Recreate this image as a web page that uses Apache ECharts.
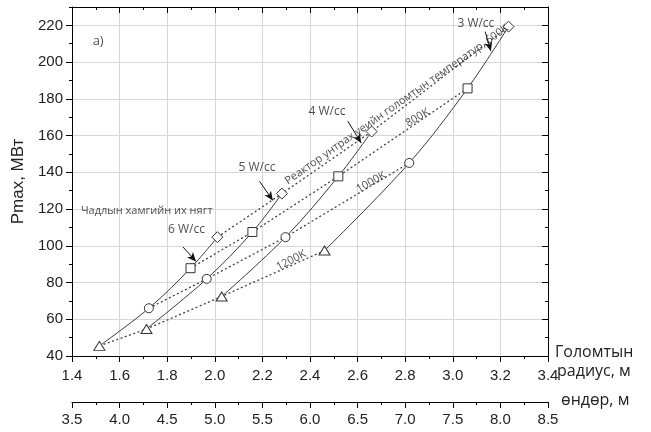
<!DOCTYPE html>
<html>
<head>
<meta charset="utf-8">
<script src="https://cdn.jsdelivr.net/npm/echarts@6/dist/echarts.min.js"></script>
<style>html,body{margin:0;padding:0;background:#fff;}#chart{width:651px;height:432px;}</style>
</head>
<body>
<div id="chart"></div>
<script>
// ---- data ----
// Temperature lines (dotted), points ordered 6, 5, 4, 3 W/cc
const radius600  = [2.011, 2.282, 2.659, 3.234];
const pmax600    = [104.7, 128.4, 162.2, 219.3];
const radius800  = [1.898, 2.158, 2.519, 3.062];
const pmax800    = [87.8, 107.5, 137.8, 185.7];
const radius1000 = [1.723, 1.966, 2.297, 2.817];
const pmax1000   = [66.0, 82.0, 104.7, 145.1];
const radius1200 = [1.515, 1.713, 2.029, 2.461];
const pmax1200   = [45.5, 54.7, 72.4, 97.4];
const powerDensities = ['6 W/cc', '5 W/cc', '4 W/cc', '3 W/cc'];
const temperatures = ['600K', '800K', '1000K', '1200K'];

// Axis ticks
const radiusMin = 1.4, radiusMax = 3.4, radiusStep = 0.2;
const heightMin = 3.5, heightMax = 8.5, heightStep = 0.5;
const pmaxMin = 40, pmaxMax = 230, pmaxStep = 20;

// Annotations (text, data-coord anchor)
const annTexts  = ['a)', 'Чадлын хамгийн их нягт', '6 W/cc', '5 W/cc', '4 W/cc', '3 W/cc',
                   'Реактор унтрах үеийн голомтын температур, 600K', '800K', '1000K', '1200K'];
const annX      = [1.510, 1.714, 1.881, 2.177, 2.471, 3.097, 2.765, 2.852, 2.657, 2.321];
const annY      = [211.5, 119.1, 108.7, 142.4, 173.1, 221.1, 176.9, 169.7, 134.6, 92.0];
const annAngle  = [0, 0, 0, 0, 0, 0, 35, 31, 29, 27];
// Arrows pointing to the power-density curves
const arrowStart = [[1.866, 99.4], [2.188, 135.1], [2.559, 167.8], [3.136, 216.6]];
const arrowEnd   = [[1.921, 91.5], [2.244, 124.7], [2.615, 156.0], [3.160, 206.0]];

// ---- build ----
const tempSets = [
  [radius600, pmax600, 'diamond', 11],
  [radius800, pmax800, 'rect', 9],
  [radius1000, pmax1000, 'circle', 9],
  [radius1200, pmax1200, 'triangle', [11, 9]]
];
const series = [];
// solid power-density curves
for (let i = 0; i < 4; i++) {
  const pts = [
    [radius1200[i], pmax1200[i]],
    [radius1000[i], pmax1000[i]],
    [radius800[i], pmax800[i]],
    [radius600[i], pmax600[i]]
  ];
  series.push({
    name: powerDensities[i], type: 'line', data: pts, smooth: 0.35,
    showSymbol: false, z: 2,
    lineStyle: { color: '#3a3a3a', width: 1 }
  });
}
// dotted temperature lines with markers
tempSets.forEach((t, k) => {
  series.push({
    name: temperatures[k], type: 'line',
    data: t[0].map((x, j) => [x, t[1][j]]),
    symbol: t[2], symbolSize: t[3], showSymbol: true, z: 3,
    itemStyle: { color: '#fff', borderColor: '#333', borderWidth: 1 },
    lineStyle: { color: '#444', width: 1.3, type: [2, 2.5] }
  });
});
// arrows
series.push({
  type: 'line', data: [], silent: true, z: 4,
  markLine: {
    silent: true, animation: false, symbol: ['none', 'arrow'], symbolSize: [6, 9],
    label: { show: false },
    lineStyle: { color: '#111', width: 1, type: 'solid' },
    data: arrowStart.map((s, i) => [{ coord: s }, { coord: arrowEnd[i] }])
  }
});
// annotation texts
series.push({
  type: 'scatter', silent: true, z: 5, symbolSize: 0,
  data: annTexts.map((txt, i) => ({
    value: [annX[i], annY[i]],
    label: {
      show: true, formatter: txt, rotate: annAngle[i], position: 'inside',
      align: 'center', verticalAlign: 'middle',
      fontFamily: '"Open Sans", sans-serif',
      fontSize: i === 0 ? 13 : (i === 1 || i >= 6 ? 11 : 12),
      color: '#222'
    }
  }))
});

const axisLineBlack = { show: true, onZero: false, lineStyle: { color: '#000', width: 1 } };
const tickFont = { fontFamily: '"Liberation Sans", Arial, sans-serif', fontSize: 15, color: '#222' };
const fmt1 = v => Number(v).toFixed(1);

const option = {
  animation: false,
  backgroundColor: '#fff',
  grid: { left: 72, right: 103, top: 7, bottom: 76, containLabel: false },
  xAxis: [
    { type: 'value', position: 'bottom', min: radiusMin, max: radiusMax, interval: radiusStep,
      axisLine: axisLineBlack, axisTick: { length: 6, lineStyle: { color: '#000' } },
      axisLabel: Object.assign({ margin: 12, formatter: fmt1 }, tickFont),
      splitLine: { show: true, lineStyle: { color: '#d6d6d6', width: 1 } } },
    { type: 'value', position: 'bottom', min: radiusMin, max: radiusMax, interval: radiusStep / 2,
      axisLine: { show: false, onZero: false }, axisTick: { length: 3, lineStyle: { color: '#000' } },
      axisLabel: { show: false }, splitLine: { show: false } },
    { type: 'value', position: 'top', min: radiusMin, max: radiusMax, interval: radiusStep,
      axisLine: axisLineBlack, axisTick: { inside: true, length: 6, lineStyle: { color: '#000' } },
      axisLabel: { show: false }, splitLine: { show: false } },
    { type: 'value', position: 'top', min: radiusMin, max: radiusMax, interval: radiusStep / 2,
      axisLine: { show: false, onZero: false }, axisTick: { inside: true, length: 3, lineStyle: { color: '#000' } },
      axisLabel: { show: false }, splitLine: { show: false } },
    { type: 'value', position: 'bottom', offset: 46, min: heightMin, max: heightMax, interval: heightStep,
      axisLine: axisLineBlack, axisTick: { length: 6, lineStyle: { color: '#000' } },
      axisLabel: Object.assign({ margin: 10, formatter: fmt1 }, tickFont),
      splitLine: { show: false } },
    { type: 'value', position: 'bottom', offset: 46, min: heightMin, max: heightMax, interval: heightStep / 2,
      axisLine: { show: false, onZero: false }, axisTick: { length: 3, lineStyle: { color: '#000' } },
      axisLabel: { show: false }, splitLine: { show: false } }
  ],
  yAxis: [
    { type: 'value', position: 'left', min: pmaxMin, max: pmaxMax, interval: pmaxStep,
      axisLine: axisLineBlack, axisTick: { length: 6, lineStyle: { color: '#000' } },
      axisLabel: Object.assign({ margin: 9, showMaxLabel: false,
        formatter: v => (v > 220 ? '' : String(v)) }, tickFont),
      splitLine: { show: true, lineStyle: { color: '#d6d6d6', width: 1 } },
      name: 'Pmax, МВт', nameLocation: 'middle', nameGap: 40,
      nameTextStyle: { fontFamily: '"Liberation Sans", Arial, sans-serif', fontSize: 17, color: '#222' } },
    { type: 'value', position: 'left', min: pmaxMin, max: pmaxMax, interval: pmaxStep / 2,
      axisLine: { show: false, onZero: false }, axisTick: { length: 3, lineStyle: { color: '#000' } },
      axisLabel: { show: false }, splitLine: { show: false } },
    { type: 'value', position: 'right', min: pmaxMin, max: pmaxMax, interval: pmaxStep,
      axisLine: axisLineBlack, axisTick: { inside: true, length: 6, lineStyle: { color: '#000' } },
      axisLabel: { show: false }, splitLine: { show: false } },
    { type: 'value', position: 'right', min: pmaxMin, max: pmaxMax, interval: pmaxStep / 2,
      axisLine: { show: false, onZero: false }, axisTick: { inside: true, length: 3, lineStyle: { color: '#000' } },
      axisLabel: { show: false }, splitLine: { show: false } }
  ],
  graphic: [
    { type: 'text', left: 555, top: 344, style: { text: 'Голомтын', font: '16px "Open Sans", sans-serif', fill: '#222' } },
    { type: 'text', left: 557, top: 363, style: { text: 'радиус, м', font: '16px "Open Sans", sans-serif', fill: '#222' } },
    { type: 'text', left: 561, top: 392, style: { text: 'өндөр, м', font: '16px "Open Sans", sans-serif', fill: '#222' } }
  ],
  series: series
};

const chart = echarts.init(document.getElementById('chart'), null, { renderer: 'canvas' });
chart.setOption(option);
</script>
</body>
</html>
